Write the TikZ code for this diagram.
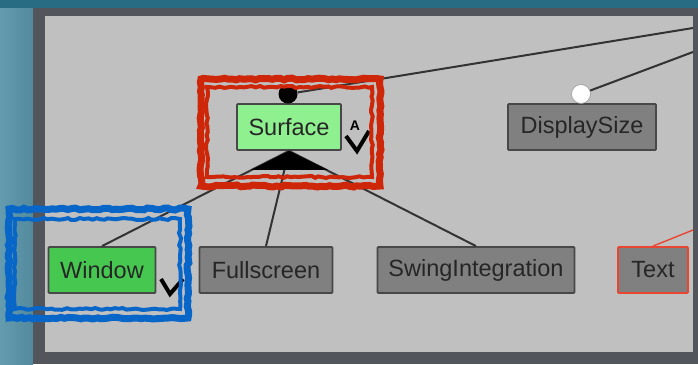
\documentclass[tikz,border=0pt]{standalone}
\usepackage{fontspec}
\setmainfont{Liberation Sans}
\usepackage{xcolor}
\usepackage{tikz}
\usetikzlibrary{decorations.pathmorphing}

\definecolor{sea}{RGB}{40,108,132}
\definecolor{seapale}{RGB}{100,155,175}
\definecolor{frame}{RGB}{82,86,92}
\definecolor{panel}{RGB}{192,192,192}
\definecolor{boxline}{RGB}{72,72,72}
\definecolor{lightgreen}{RGB}{142,240,142}
\definecolor{midgreen}{RGB}{70,200,80}
\definecolor{boxgray}{RGB}{128,128,128}
\definecolor{markred}{RGB}{205,38,8}
\definecolor{markblue}{RGB}{8,102,200}
\definecolor{textred}{RGB}{232,70,50}

\begin{document}
\begin{tikzpicture}[x=1pt, y=-1pt,
    feature/.style={draw=boxline, line width=1.8pt, rounded corners=1pt, inner sep=0pt,
      minimum height=46pt, text=black!85, font=\fontsize{23.5}{26}\selectfont},
    edge/.style={draw=black!80, line width=2pt},
    dot/.style={circle, inner sep=0pt, minimum size=19pt},
    tick/.style={line width=4pt, line join=miter},
    sketch/.style={decorate, decoration={random steps, segment length=4pt, amplitude=1pt}}]
  \useasboundingbox (0,0) rectangle (698,364);
  % screen and frame
  \fill[sea] (0,0) rectangle (698,364);
  \shade[left color=seapale, right color=sea!80] (0,8) rectangle (33,364);
  \fill[frame] (33,8) rectangle (698,364);
  \fill[panel] (45,16) rectangle (693,352);

  % features
  \node[feature, fill=lightgreen, minimum width=104pt] (surface) at (289,127) {Surface};
  \node[feature, fill=boxgray, minimum width=148pt] (displaysize) at (582,127) {DisplaySize};
  \node[feature, fill=midgreen, minimum width=107pt] (window) at (102,270) {Window};
  \node[feature, fill=boxgray, minimum width=133pt] (fullscreen) at (266,270) {Fullscreen};
  \node[feature, fill=boxgray, minimum width=197pt] (swing) at (476,270) {SwingIntegration};
  \node[feature, fill=boxgray, draw=textred, minimum width=70pt] (text) at (653,270) {Text};

  % loose ends towards the parent
  \coordinate (toroot) at (693,28);
  \coordinate (toroot2) at (693,52);
  \coordinate (totext) at (693,230);

  \draw[edge] (surface.south) -- (window.north);
  \draw[edge] (surface.south) -- (fullscreen.north);
  \draw[edge] (surface.south) -- (swing.north);
  \fill (surface.south) -- ++(-38,19) -- ++(77,0) -- cycle;
  \draw[textred, line width=1.4pt] (text.north) -- (totext);

  \node[dot, fill=black] (surfdot) at (288,94) {};
  \node[dot, fill=white, draw=black!40, line width=0.6pt] (sizedot) at (581,94) {};
  \draw[edge] (surfdot) -- (toroot);
  \draw[edge] (sizedot) -- (toroot2);

  % checks
  \node[font=\fontsize{14}{14}\selectfont\bfseries] (alabel) at (355,126) {A};
  \draw[tick] (346,136) -- (357,151) -- (369,131);
  \draw[tick] (161,279) -- (170,294) -- (183,279);

  % marker boxes
  \draw[markred, line width=7pt, sketch] (201,79) rectangle (380,186);
  \draw[markred, line width=4pt, sketch] (207,87) rectangle (372,177);
  \draw[markblue, line width=7pt, sketch] (9,209) rectangle (188,318);
  \draw[markblue, line width=4pt, sketch] (15,219) rectangle (180,309);
\end{tikzpicture}
\end{document}
